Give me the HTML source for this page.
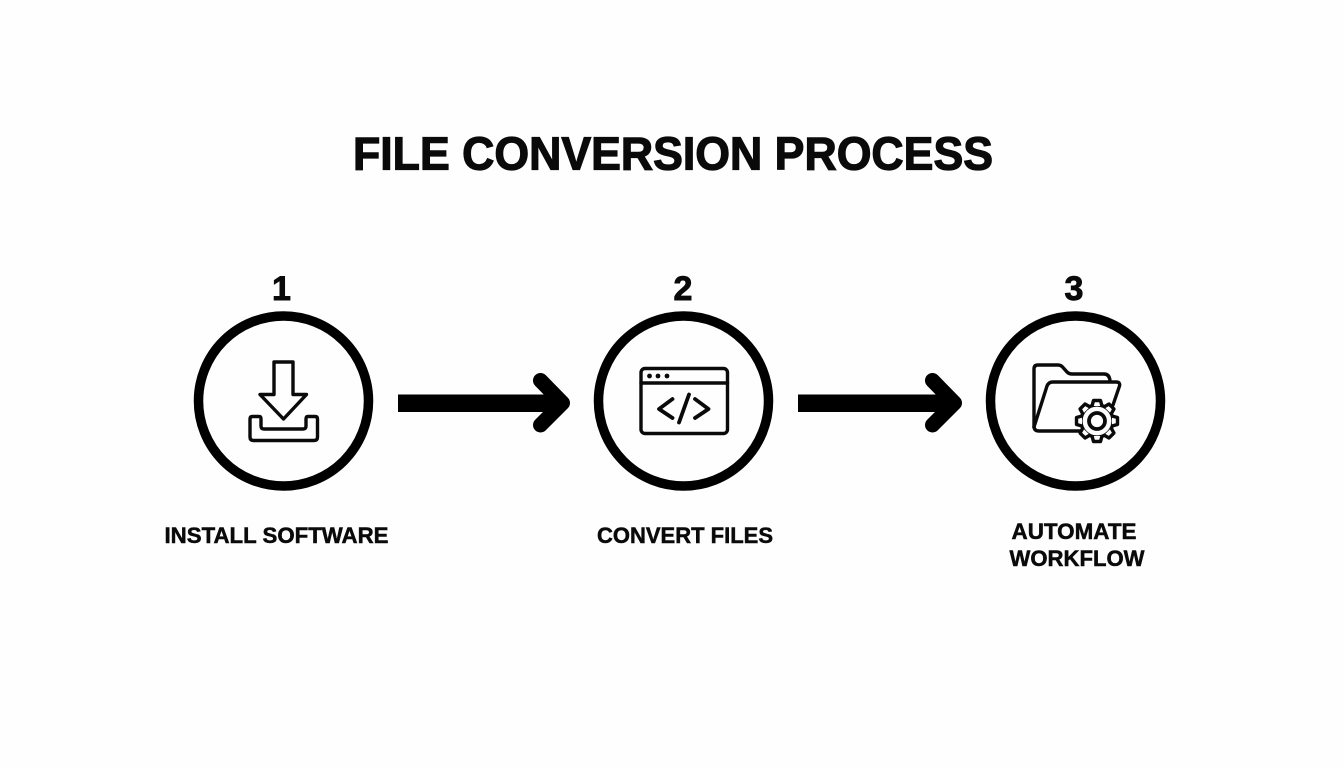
<!DOCTYPE html>
<html lang="en">
<head>
<meta charset="utf-8">
<title>File Conversion Process</title>
<style>
html,body{margin:0;padding:0;background:#fefefe;}
svg{display:block;}
text{font-family:"Liberation Sans",Arial,sans-serif;font-weight:700;fill:#0a0a0a;}
</style>
</head>
<body>
<svg width="1344" height="768" viewBox="0 0 1344 768" xmlns="http://www.w3.org/2000/svg">
<rect width="1344" height="768" fill="#fefefe"/>

<text x="353" y="169.500" font-size="46" textLength="640" lengthAdjust="spacingAndGlyphs" stroke="#0a0a0a" stroke-width="1.200">FILE CONVERSION PROCESS</text>

<text x="281.500" y="300" font-size="34" text-anchor="middle" stroke="#0a0a0a" stroke-width="0.900">1</text>
<text x="683" y="300" font-size="34" text-anchor="middle" stroke="#0a0a0a" stroke-width="0.900">2</text>
<text x="1074" y="300" font-size="34" text-anchor="middle" stroke="#0a0a0a" stroke-width="0.900">3</text>

<g fill="none" stroke="#000" stroke-width="9.500">
<circle cx="283.500" cy="401" r="85"/>
<circle cx="683.500" cy="401" r="85"/>
<circle cx="1075.500" cy="401" r="85"/>
</g>

<!-- Arrows -->
<g fill="none" stroke="#000" stroke-linecap="round" stroke-linejoin="round">
<path d="M540.500 380.500 L562.500 403 L540.500 425" stroke-width="15"/>
<path d="M932.500 380.500 L954.500 403 L932.500 425" stroke-width="15"/>
</g>
<rect x="398" y="394.500" width="160" height="17.500" fill="#000"/>
<rect x="798" y="394.500" width="152" height="17.500" fill="#000"/>

<!-- Download icon -->
<g fill="none" stroke="#0a0a0a" stroke-width="3.400" stroke-linejoin="round" stroke-linecap="round">
<path d="M274 362 H293 V394.500 H306.500 L283.500 419 L260 394.500 H274 Z"/>
<path d="M250 419 Q250 416.500 252.500 416.500 H259 Q261 416.500 261 419 V426 Q261 429 264 429 H303 Q306 429 306 426 V419 Q306 416.500 308 416.500 H315 Q317.500 416.500 317.500 419 V437 Q317.500 440.500 314 440.500 H253.500 Q250 440.500 250 437 Z"/>
</g>

<!-- Browser code icon -->
<g fill="none" stroke="#0a0a0a" stroke-linecap="round" stroke-linejoin="round">
<rect x="641" y="368.500" width="86.500" height="65" rx="4" stroke-width="3.400"/>
<path d="M641 383 H727.500" stroke-width="3.400"/>
<path d="M672.500 399 L659 409 L672.500 418" stroke-width="3.800"/>
<path d="M695 399 L708.500 409 L695 418" stroke-width="3.800"/>
<path d="M689 394.500 L679 422.500" stroke-width="3.800"/>
</g>
<g fill="#0a0a0a">
<circle cx="649.500" cy="376" r="2.400"/>
<circle cx="658" cy="376" r="2.400"/>
<circle cx="667" cy="376" r="2.400"/>
</g>

<!-- Folder gear icon -->
<g fill="none" stroke="#0a0a0a" stroke-width="3.400" stroke-linecap="round" stroke-linejoin="round">
<path d="M1034 427 V369 Q1034 365 1038 365 H1058 Q1061 365 1063 367.500 L1067 372 Q1069 374 1072 374 H1104 Q1109.500 374 1110 381"/>
<path d="M1034 427 L1047 386 Q1048.500 382 1053 382 H1116 Q1120.500 382 1119.500 386 L1113 405"/>
<path d="M1034 427 Q1034.500 431 1039 431 H1080"/>
</g>
<g transform="translate(1097 421)">
<circle r="16" fill="#fefefe" stroke="#0a0a0a" stroke-width="3.400"/>
<g fill="#fefefe" stroke="#0a0a0a" stroke-width="3.400" stroke-linejoin="round">
<path d="M-5 -15 L-3.500 -20.500 H3.500 L5 -15"/>
<path d="M-5 -15 L-3.500 -20.500 H3.500 L5 -15" transform="rotate(45)"/>
<path d="M-5 -15 L-3.500 -20.500 H3.500 L5 -15" transform="rotate(90)"/>
<path d="M-5 -15 L-3.500 -20.500 H3.500 L5 -15" transform="rotate(135)"/>
<path d="M-5 -15 L-3.500 -20.500 H3.500 L5 -15" transform="rotate(180)"/>
<path d="M-5 -15 L-3.500 -20.500 H3.500 L5 -15" transform="rotate(225)"/>
<path d="M-5 -15 L-3.500 -20.500 H3.500 L5 -15" transform="rotate(270)"/>
<path d="M-5 -15 L-3.500 -20.500 H3.500 L5 -15" transform="rotate(315)"/>
</g>
<circle r="14.300" fill="#fefefe"/>
<circle r="8" fill="#fefefe" stroke="#0a0a0a" stroke-width="3.800"/>
</g>

<!-- Labels -->
<text x="164.500" y="543" font-size="22" textLength="224" lengthAdjust="spacingAndGlyphs" stroke="#0a0a0a" stroke-width="0.500">INSTALL SOFTWARE</text>
<text x="597" y="543" font-size="22" textLength="176" lengthAdjust="spacingAndGlyphs" stroke="#0a0a0a" stroke-width="0.500">CONVERT FILES</text>
<text x="1011.500" y="539" font-size="22" textLength="125" lengthAdjust="spacingAndGlyphs" stroke="#0a0a0a" stroke-width="0.500">AUTOMATE</text>
<text x="1009.500" y="566" font-size="22" textLength="135" lengthAdjust="spacingAndGlyphs" stroke="#0a0a0a" stroke-width="0.500">WORKFLOW</text>
</svg>
</body>
</html>
